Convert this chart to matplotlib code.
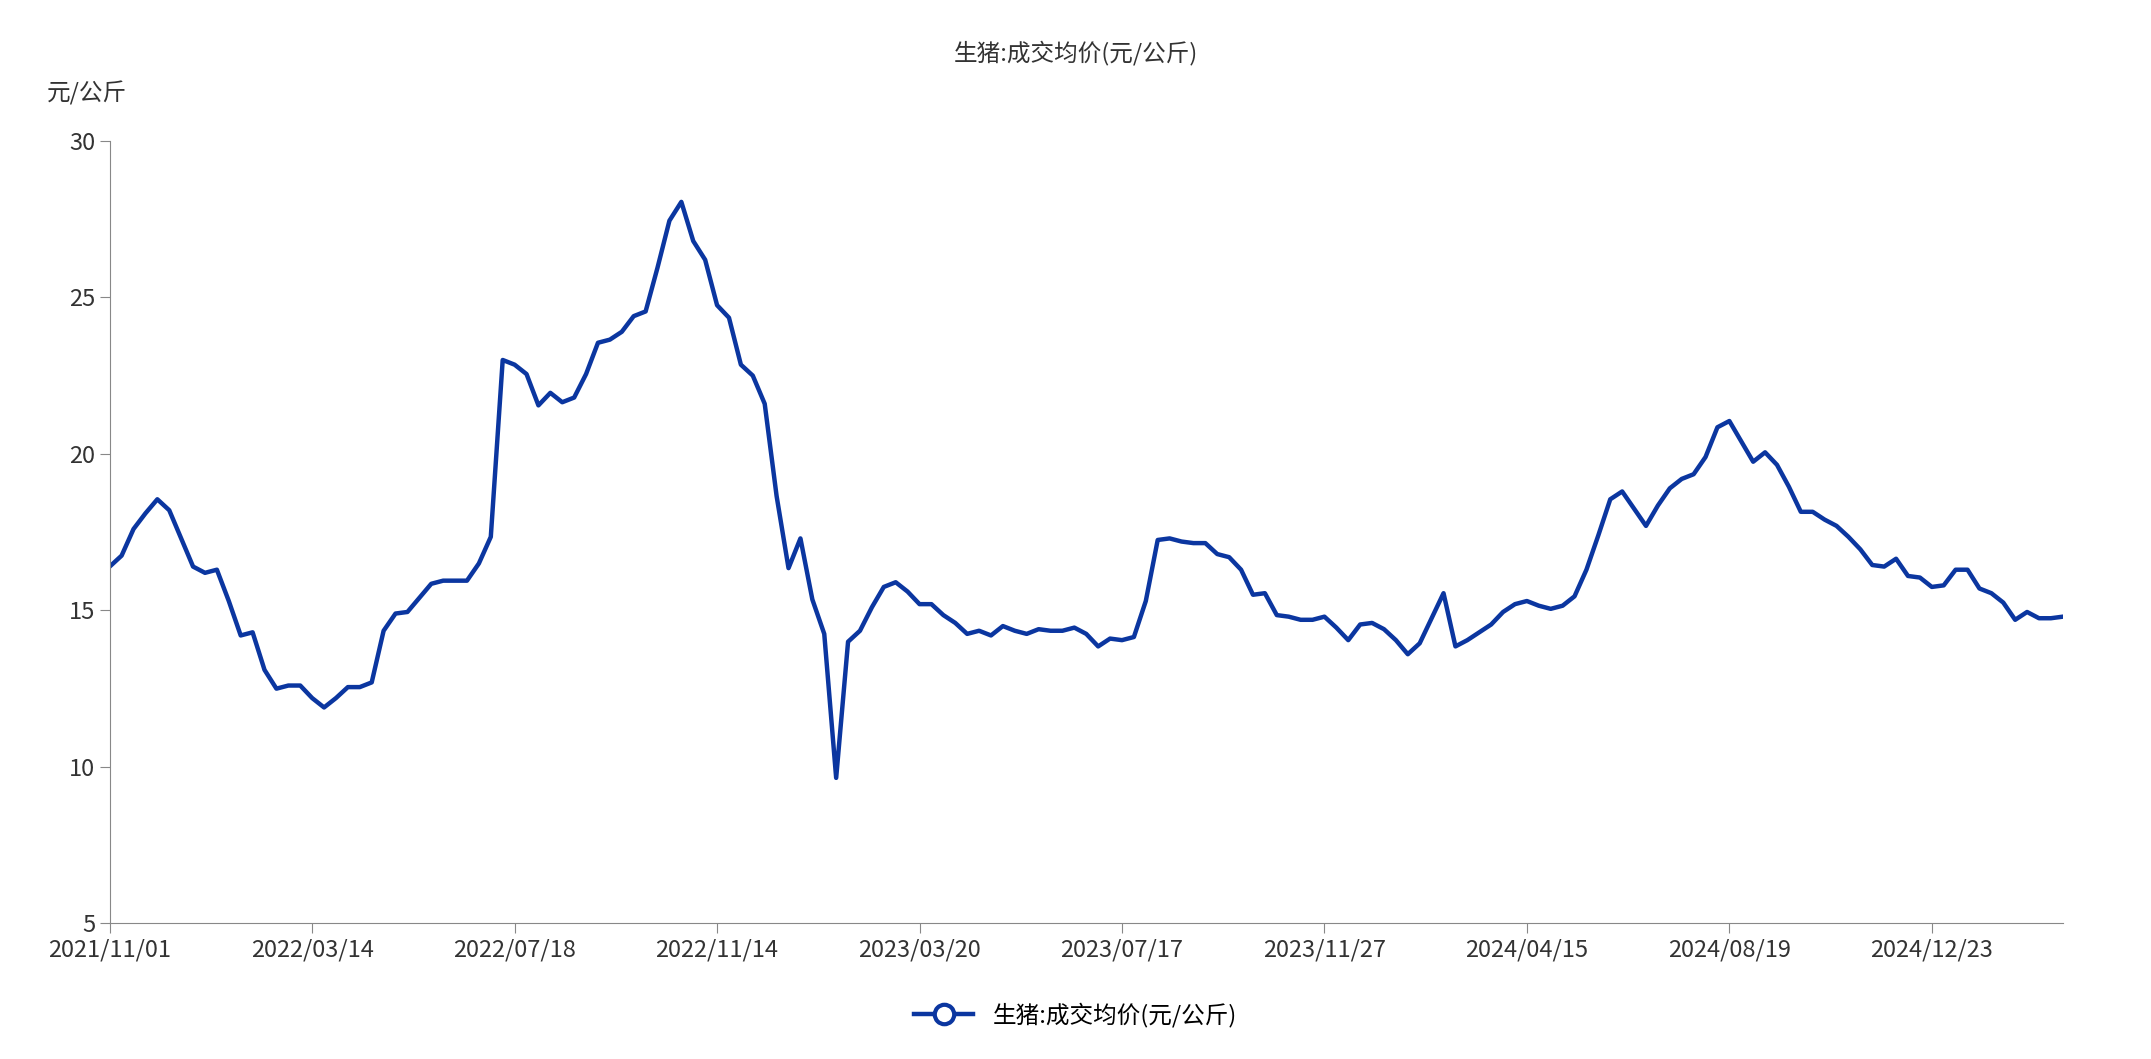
import matplotlib
matplotlib.use("Agg")
import matplotlib.pyplot as plt
from matplotlib.lines import Line2D

plt.rcParams['font.family'] = ['Noto Sans CJK SC', 'DejaVu Sans']

tick_labels = ["2021/11/01", "2022/03/14", "2022/07/18", "2022/11/14", "2023/03/20",
               "2023/07/17", "2023/11/27", "2024/04/15", "2024/08/19", "2024/12/23"]
prices = [16.4, 16.75, 17.6, 18.1, 18.55, 18.2, 17.3, 16.4, 16.2, 16.3,
          15.3, 14.2, 14.3, 13.1, 12.5, 12.6, 12.6, 12.2, 11.9, 12.2,
          12.55, 12.55, 12.7, 14.35, 14.9, 14.95, 15.4, 15.85, 15.95, 15.95,
          15.95, 16.5, 17.35, 23.0, 22.85, 22.55, 21.55, 21.95, 21.65, 21.8,
          22.55, 23.55, 23.65, 23.9, 24.4, 24.55, 25.95, 27.45, 28.05, 26.8,
          26.2, 24.75, 24.35, 22.85, 22.5, 21.6, 18.65, 16.35, 17.3, 15.35,
          14.25, 9.65, 14.0, 14.35, 15.1, 15.75, 15.9, 15.6, 15.2, 15.2,
          14.85, 14.6, 14.25, 14.35, 14.2, 14.5, 14.35, 14.25, 14.4, 14.35,
          14.35, 14.45, 14.25, 13.85, 14.1, 14.05, 14.15, 15.3, 17.25, 17.3,
          17.2, 17.15, 17.15, 16.8, 16.7, 16.3, 15.5, 15.55, 14.85, 14.8,
          14.7, 14.7, 14.8, 14.45, 14.05, 14.55, 14.6, 14.4, 14.05, 13.6,
          13.95, 14.75, 15.55, 13.85, 14.05, 14.3, 14.55, 14.95, 15.2, 15.3,
          15.15, 15.05, 15.15, 15.45, 16.3, 17.4, 18.55, 18.8, 18.25, 17.7,
          18.35, 18.9, 19.2, 19.35, 19.9, 20.85, 21.05, 20.4, 19.75, 20.05,
          19.65, 18.95, 18.15, 18.15, 17.9, 17.7, 17.35, 16.95, 16.45, 16.4,
          16.65, 16.1, 16.05, 15.75, 15.8, 16.3, 16.3, 15.7, 15.55, 15.25,
          14.7, 14.95, 14.75, 14.75, 14.8]
yticks = [5, 10, 15, 20, 25, 30]
series_name = "生猪:成交均价(元/公斤)"
color = "#0b36a0"

fig = plt.figure(figsize=(21.51, 10.59), dpi=100)
ax = fig.add_axes([0.051, 0.128, 0.908, 0.739])
x = list(range(len(prices)))
ax.plot(x, prices, color=color, lw=3.2)
ax.set_xlim(0, len(prices) - 1)
ax.set_ylim(5, 30)
ax.set_yticks(yticks)
ax.set_xticks([i * 17 for i in range(len(tick_labels))])
ax.set_xticklabels(tick_labels)
for s in ['top', 'right']:
    ax.spines[s].set_visible(False)
for s in ['left', 'bottom']:
    ax.spines[s].set_color('#888888')
ax.tick_params(colors='#888888', labelcolor='#333333', labelsize=17, length=7)
fig.text(0.5, 0.95, series_name, ha='center', va='center', fontsize=17, color='#333333')
fig.text(0.022, 0.912, "元/公斤", ha='left', va='center', fontsize=17, color='#333333')
h = Line2D([], [], color=color, lw=3.2, marker='o', markersize=14,
           markerfacecolor='white', markeredgecolor=color, markeredgewidth=3)
fig.legend([h], [series_name], loc='center', bbox_to_anchor=(0.5, 0.042),
           frameon=False, fontsize=17, handlelength=2.5)
fig.savefig("out.png", dpi=100)
